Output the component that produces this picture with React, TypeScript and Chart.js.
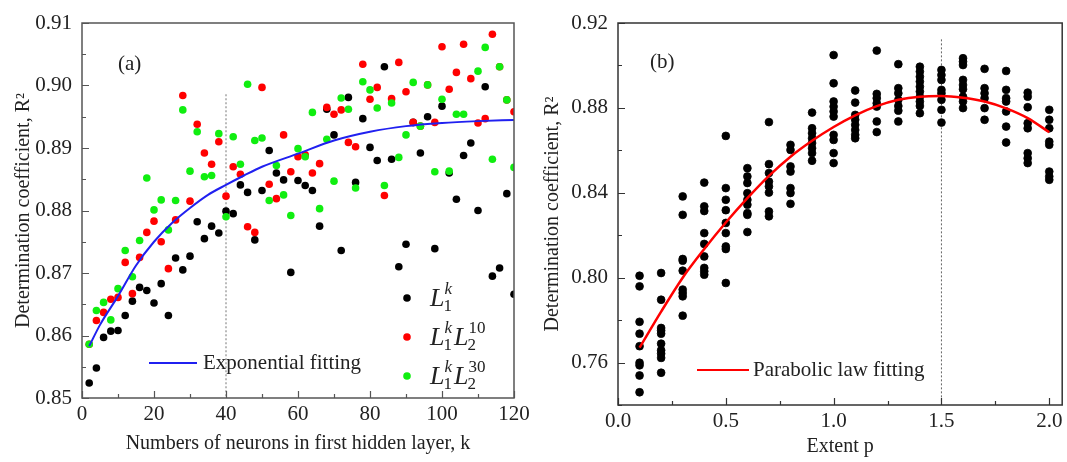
import React, { useEffect, useRef } from "react";
import { Chart, registerables } from "chart.js";

Chart.register(...registerables);

const SERIF = "'Liberation Serif', 'Times New Roman', Times, serif";
const TEXT = "#222222";

// ---------------- Panel (a) data ----------------
const NEURONS_K = [
  2, 4, 6, 8, 10, 12, 14, 16, 18, 20, 22, 24, 26, 28, 30, 32, 34, 36, 38, 40,
  42, 44, 46, 48, 50, 52, 54, 56, 58, 60, 62, 64, 66, 68, 70, 72, 74, 76, 78, 80,
  82, 84, 86, 88, 90, 92, 94, 96, 98, 100, 102, 104, 106, 108, 110, 112, 114, 116, 118, 120,
];
const R2_L1 = [
  0.8524, 0.8548, 0.8597, 0.8607, 0.8608, 0.8632, 0.8655, 0.8677, 0.8672, 0.8652,
  0.8683, 0.8632, 0.8724, 0.8705, 0.8727, 0.8782, 0.8755, 0.8775, 0.8764, 0.8799,
  0.8795, 0.8841, 0.8829, 0.8753, 0.8832, 0.8896, 0.8860, 0.8849, 0.8701, 0.8848,
  0.8840, 0.8832, 0.8775, 0.8962, 0.8921, 0.8736, 0.8981, 0.8845, 0.8947, 0.8901,
  0.8880, 0.9030, 0.8882, 0.8710, 0.8746, 0.8941, 0.8892, 0.8950, 0.8739, 0.8967,
  0.8860, 0.8818, 0.8888, 0.8908, 0.8800, 0.8998, 0.8695, 0.8708, 0.8827, 0.8666,
];
const R2_L1_L2_10 = [
  0.8586, 0.8624, 0.8637, 0.8658, 0.8661, 0.8717, 0.8667, 0.8725, 0.8765, 0.8783,
  0.8750, 0.8707, 0.8785, 0.8984, 0.8815, 0.8938, 0.8892, 0.8874, 0.8910, 0.8823,
  0.8870, 0.8858, 0.8774, 0.8765, 0.8997, 0.8842, 0.8819, 0.8921, 0.8862, 0.8886,
  0.8889, 0.8860, 0.8875, 0.8965, 0.8954, 0.8961, 0.8909, 0.8902, 0.9034, 0.8978,
  0.8997, 0.8824, 0.8979, 0.9037, 0.8990, 0.8941, 0.8935, 0.9001, 0.8941, 0.9062,
  0.8994, 0.9021, 0.9066, 0.9011, 0.8940, 0.8947, 0.9082, 0.9030, 0.8977, 0.8958,
];
const R2_L1_L2_30 = [
  0.8586, 0.8640, 0.8653, 0.8625, 0.8675, 0.8736, 0.8694, 0.8752, 0.8852, 0.8801,
  0.8817, 0.8769, 0.8816, 0.8961, 0.8863, 0.8926, 0.8854, 0.8856, 0.8923, 0.8790,
  0.8918, 0.8874, 0.9002, 0.8912, 0.8916, 0.8816, 0.8872, 0.8825, 0.8792, 0.8899,
  0.8886, 0.8957, 0.8803, 0.8914, 0.8847, 0.8980, 0.8962, 0.8836, 0.9006, 0.8993,
  0.8964, 0.8840, 0.8972, 0.8885, 0.8921, 0.9005, 0.8935, 0.9001, 0.8862, 0.8978,
  0.8863, 0.8954, 0.8954, null, 0.9023, 0.9061, 0.8882, 0.9030, 0.8977, 0.8869,
];
const EXP_FIT_K = [2, 5, 10, 15, 20, 25, 30, 35, 40, 45, 50, 60, 70, 80, 90, 100, 110, 120];
const EXP_FIT_R2 = [
  0.8583, 0.8617, 0.8663, 0.8712, 0.8750, 0.8780, 0.8804, 0.8825, 0.8841, 0.8856,
  0.8870, 0.8891, 0.8912, 0.8926, 0.8935, 0.8940, 0.8943, 0.8945,
];
const K_MARK = 40;
const K_MARK_RANGE = [0.8986, 0.85];
const A_X_MAJOR = [0, 20, 40, 60, 80, 100, 120];
const A_X_MINOR = [10, 30, 50, 70, 90, 110];
const A_Y_MAJOR = [0.85, 0.86, 0.87, 0.88, 0.89, 0.9, 0.91];
const A_Y_MINOR = [0.855, 0.865, 0.875, 0.885, 0.895, 0.905];

// ---------------- Panel (b) data ----------------
const EXTENT_P = [0.1, 0.2, 0.3, 0.4, 0.5, 0.6, 0.7, 0.8, 0.9, 1.0, 1.1, 1.2, 1.3, 1.4, 1.5, 1.6, 1.7, 1.8, 1.9, 2.0];
const R2_BY_P = [
  [0.8009, 0.7959, 0.7792, 0.7736, 0.7677, 0.7599, 0.7587, 0.7539, 0.746],
  [0.8022, 0.7896, 0.7763, 0.7751, 0.7736, 0.7689, 0.7658, 0.7642, 0.7622, 0.7552],
  [0.8383, 0.8296, 0.8088, 0.808, 0.8033, 0.7944, 0.7928, 0.7912, 0.7821],
  [0.8448, 0.8336, 0.8314, 0.821, 0.8159, 0.81, 0.8046, 0.803, 0.8014],
  [0.8668, 0.8422, 0.8367, 0.8318, 0.8258, 0.821, 0.8147, 0.8135, 0.7975],
  [0.8516, 0.8477, 0.8446, 0.8398, 0.8367, 0.8344, 0.8304, 0.8296, 0.8215],
  [0.8733, 0.8535, 0.8493, 0.8453, 0.843, 0.8401, 0.8312, 0.8289],
  [0.8626, 0.8602, 0.8524, 0.85, 0.8422, 0.8399, 0.8348],
  [0.8778, 0.8704, 0.8681, 0.8657, 0.8634, 0.861, 0.8587, 0.8551],
  [0.9049, 0.8916, 0.883, 0.8806, 0.8783, 0.8759, 0.8673, 0.8649, 0.8587, 0.854],
  [0.8882, 0.8825, 0.8767, 0.8744, 0.872, 0.8696, 0.8673, 0.8657],
  [0.907, 0.8866, 0.8846, 0.8822, 0.8806, 0.8736, 0.8686],
  [0.9006, 0.8893, 0.8869, 0.8838, 0.8809, 0.8787, 0.8736],
  [0.8994, 0.8971, 0.8947, 0.8924, 0.89, 0.8877, 0.8853, 0.883, 0.8809, 0.8775],
  [0.8979, 0.8955, 0.8932, 0.8885, 0.8869, 0.8838, 0.8791, 0.8731],
  [0.9034, 0.9018, 0.9002, 0.8932, 0.8908, 0.8888, 0.8853, 0.883, 0.8799],
  [0.8984, 0.8893, 0.8869, 0.8846, 0.8799, 0.8744],
  [0.8974, 0.8885, 0.8846, 0.883, 0.8783, 0.8712, 0.8637],
  [0.8872, 0.8853, 0.8803, 0.8728, 0.8704, 0.8587, 0.8563, 0.854],
  [0.8791, 0.8744, 0.8704, 0.8641, 0.8626, 0.85, 0.8477, 0.8461],
];
const PARA_FIT_P = [0.1, 0.2, 0.3, 0.4, 0.5, 0.6, 0.7, 0.8, 0.9, 1.0, 1.1, 1.2, 1.3, 1.4, 1.5, 1.6, 1.7, 1.8, 1.9, 2.0];
const PARA_FIT_R2 = [
  0.767, 0.784, 0.8, 0.8135, 0.826, 0.8375, 0.848, 0.857, 0.8645, 0.871,
  0.8765, 0.8808, 0.8838, 0.8853, 0.8856, 0.8848, 0.883, 0.8798, 0.8752, 0.8685,
];
const P_MARK = 1.5;
const P_MARK_RANGE = [0.9123, 0.74];
const B_X_MAJOR = [0, 0.5, 1.0, 1.5, 2.0];
const B_X_MINOR = [0.25, 0.75, 1.25, 1.75];
const B_Y_MAJOR = [0.76, 0.8, 0.84, 0.88, 0.92];
const B_Y_MINOR = [0.74, 0.78, 0.82, 0.86, 0.9];

// ---------------- helpers ----------------
const toPoints = (xs: number[], ys: (number | null)[]) =>
  xs.map((x, i) => ({ x, y: ys[i] })).filter((p) => p.y !== null);

type Term = { sup: string; sub: string; supItalic: boolean };
const LEG_L1: Term[] = [{ sup: "k", sub: "1", supItalic: true }];
const LEG_L1L2_10: Term[] = [
  { sup: "k", sub: "1", supItalic: true },
  { sup: "10", sub: "2", supItalic: false },
];
const LEG_L1L2_30: Term[] = [
  { sup: "k", sub: "1", supItalic: true },
  { sup: "30", sub: "2", supItalic: false },
];

function drawMath(ctx: CanvasRenderingContext2D, x: number, base: number, terms: Term[]) {
  let cx = x;
  ctx.textAlign = "left";
  ctx.textBaseline = "alphabetic";
  for (const t of terms) {
    ctx.font = `italic 26px ${SERIF}`;
    ctx.fillText("L", cx, base);
    cx += ctx.measureText("L").width - 1;
    ctx.font = `${t.supItalic ? "italic " : ""}17px ${SERIF}`;
    ctx.fillText(t.sup, cx + 1, base - 12);
    const w1 = ctx.measureText(t.sup).width + 1;
    ctx.font = `17px ${SERIF}`;
    ctx.fillText(t.sub, cx, base + 5);
    const w2 = ctx.measureText(t.sub).width;
    cx += Math.max(w1, w2) + 2;
  }
}

function makeFrameTicks(cfg: {
  color: string;
  width: number;
  xMajor: number[];
  xMinor: number[];
  yMajor: number[];
  yMinor: number[];
}) {
  return {
    id: "frameTicks",
    afterDraw(chart: any) {
      const { ctx, chartArea } = chart;
      const { left, right, top, bottom } = chartArea;
      const xs = chart.scales.x;
      const ys = chart.scales.y;
      ctx.save();
      ctx.strokeStyle = cfg.color;
      ctx.lineWidth = 1.2;
      ctx.beginPath();
      const tick = (vals: number[], len: number, horiz: boolean) => {
        vals.forEach((v) => {
          if (horiz) {
            const px = Math.round(xs.getPixelForValue(v)) + 0.5;
            ctx.moveTo(px, bottom);
            ctx.lineTo(px, bottom - len);
          } else {
            const py = Math.round(ys.getPixelForValue(v)) + 0.5;
            ctx.moveTo(left, py);
            ctx.lineTo(left + len, py);
          }
        });
      };
      tick(cfg.xMajor, 7, true);
      tick(cfg.xMinor, 4, true);
      tick(cfg.yMajor, 7, false);
      tick(cfg.yMinor, 4, false);
      ctx.stroke();
      ctx.lineWidth = cfg.width;
      ctx.strokeRect(left, top, right - left, bottom - top);
      ctx.restore();
    },
  };
}

type Marker = { color: string; x: number; y: number; tx: number; base: number; terms: Term[] };
function makeAnnot(cfg: {
  panel: { text: string; x: number; y: number };
  fit: { text: string; color: string; x0: number; x1: number; tx: number; y: number };
  markers: Marker[];
}) {
  return {
    id: "annot",
    afterDraw(chart: any) {
      const ctx: CanvasRenderingContext2D = chart.ctx;
      ctx.save();
      ctx.fillStyle = TEXT;
      ctx.font = `21px ${SERIF}`;
      ctx.textAlign = "left";
      ctx.textBaseline = "middle";
      ctx.fillText(cfg.panel.text, cfg.panel.x, cfg.panel.y);
      ctx.strokeStyle = cfg.fit.color;
      ctx.lineWidth = 2;
      ctx.beginPath();
      ctx.moveTo(cfg.fit.x0, cfg.fit.y);
      ctx.lineTo(cfg.fit.x1, cfg.fit.y);
      ctx.stroke();
      ctx.fillStyle = TEXT;
      ctx.font = `21px ${SERIF}`;
      ctx.textBaseline = "middle";
      ctx.fillText(cfg.fit.text, cfg.fit.tx, cfg.fit.y);
      cfg.markers.forEach((m) => {
        ctx.fillStyle = m.color;
        ctx.beginPath();
        ctx.arc(m.x, m.y, 3.8, 0, Math.PI * 2);
        ctx.fill();
        ctx.fillStyle = TEXT;
        drawMath(ctx, m.tx, m.base, m.terms);
      });
      ctx.restore();
    },
  };
}

function linearAxis(opts: {
  min: number;
  max: number;
  major: number[];
  fmt: (v: number) => string;
  title: string;
  size: number;
  horizontal: boolean;
  labelPad: number;
  titlePad: any;
}) {
  return {
    type: "linear",
    min: opts.min,
    max: opts.max,
    afterBuildTicks: (s: any) => {
      s.ticks = opts.major.map((v) => ({ value: v }));
    },
    afterFit: (s: any) => {
      if (opts.horizontal) s.height = opts.size;
      else s.width = opts.size;
      s.paddingLeft = 0;
      s.paddingRight = 0;
      s.paddingTop = 0;
      s.paddingBottom = 0;
    },
    ticks: {
      callback: (v: any) => opts.fmt(Number(v)),
      font: { family: SERIF, size: 21 },
      color: TEXT,
      padding: opts.labelPad,
      autoSkip: false,
      maxRotation: 0,
      minRotation: 0,
    },
    grid: { display: false, drawTicks: false },
    border: { display: false },
    title: {
      display: true,
      text: opts.title,
      font: { family: SERIF, size: 20 },
      color: TEXT,
      padding: opts.titlePad,
    },
  };
}

function configA(): any {
  return {
    type: "scatter",
    data: {
      datasets: [
        {
          type: "line",
          label: "Exponential fitting",
          data: toPoints(EXP_FIT_K, EXP_FIT_R2),
          borderColor: "#2020f0",
          borderWidth: 2,
          pointRadius: 0,
          cubicInterpolationMode: "monotone",
          fill: false,
        },
        {
          label: "L1kL2_30",
          data: toPoints(NEURONS_K, R2_L1_L2_30),
          backgroundColor: "#10ee10",
          borderWidth: 0,
          pointRadius: 3.8,
        },
        {
          label: "L1kL2_10",
          data: toPoints(NEURONS_K, R2_L1_L2_10),
          backgroundColor: "#ff0000",
          borderWidth: 0,
          pointRadius: 3.8,
        },
        {
          label: "L1k",
          data: toPoints(NEURONS_K, R2_L1),
          backgroundColor: "#000000",
          borderWidth: 0,
          pointRadius: 3.8,
        },
        {
          type: "line",
          label: "k = 40",
          data: K_MARK_RANGE.map((y) => ({ x: K_MARK, y })),
          borderColor: "#777777",
          borderWidth: 1,
          borderDash: [2, 2],
          pointRadius: 0,
          fill: false,
        },
      ],
    },
    options: {
      animation: false,
      responsive: false,
      devicePixelRatio: 1,
      layout: { padding: { left: 0, top: 23, right: 16, bottom: 0 } },
      plugins: { legend: { display: false }, tooltip: { enabled: false } },
      scales: {
        x: linearAxis({
          min: 0,
          max: 120,
          major: A_X_MAJOR,
          fmt: (v) => String(Math.round(v)),
          title: "Numbers of neurons in first hidden layer, k",
          size: 64,
          horizontal: true,
          labelPad: 4,
          titlePad: { top: 0, bottom: 6 },
        }),
        y: linearAxis({
          min: 0.85,
          max: 0.91,
          major: A_Y_MAJOR,
          fmt: (v) => v.toFixed(2),
          title: "Determination coefficient, R²",
          size: 82,
          horizontal: false,
          labelPad: 10,
          titlePad: { top: 12, bottom: 0 },
        }),
      },
    },
    plugins: [
      makeFrameTicks({ color: "#555555", width: 1.5, xMajor: A_X_MAJOR, xMinor: A_X_MINOR, yMajor: A_Y_MAJOR, yMinor: A_Y_MINOR }),
      makeAnnot({
        panel: { text: "(a)", x: 118, y: 64 },
        fit: { text: "Exponential fitting", color: "#2020f0", x0: 149, x1: 197, tx: 203, y: 363 },
        markers: [
          { color: "#000000", x: 407, y: 298, tx: 430, base: 306, terms: LEG_L1 },
          { color: "#ff0000", x: 407, y: 337, tx: 430, base: 345, terms: LEG_L1L2_10 },
          { color: "#10ee10", x: 407, y: 376, tx: 430, base: 384, terms: LEG_L1L2_30 },
        ],
      }),
    ],
  };
}

function configB(): any {
  const pts: { x: number; y: number }[] = [];
  EXTENT_P.forEach((p, i) => R2_BY_P[i].forEach((y) => pts.push({ x: p, y })));
  return {
    type: "scatter",
    data: {
      datasets: [
        {
          type: "line",
          label: "Parabolic law fitting",
          data: toPoints(PARA_FIT_P, PARA_FIT_R2),
          borderColor: "#ff0000",
          borderWidth: 2.5,
          pointRadius: 0,
          cubicInterpolationMode: "monotone",
          fill: false,
        },
        {
          label: "R2",
          data: pts,
          backgroundColor: "#000000",
          borderColor: "#000000",
          borderWidth: 0.8,
          pointRadius: 3.9,
        },
        {
          type: "line",
          label: "p = 1.5",
          data: P_MARK_RANGE.map((y) => ({ x: P_MARK, y })),
          borderColor: "#666666",
          borderWidth: 1,
          borderDash: [2, 2],
          pointRadius: 0,
          fill: false,
        },
      ],
    },
    options: {
      animation: false,
      responsive: false,
      devicePixelRatio: 1,
      layout: { padding: { left: 0, top: 23, right: 1, bottom: 0 } },
      plugins: { legend: { display: false }, tooltip: { enabled: false } },
      scales: {
        x: linearAxis({
          min: 0,
          max: 2.06,
          major: B_X_MAJOR,
          fmt: (v) => v.toFixed(1),
          title: "Extent p",
          size: 57,
          horizontal: true,
          labelPad: 4,
          titlePad: { top: 0, bottom: 3 },
        }),
        y: linearAxis({
          min: 0.74,
          max: 0.92,
          major: B_Y_MAJOR,
          fmt: (v) => v.toFixed(2),
          title: "Determination coefficient, R²",
          size: 88,
          horizontal: false,
          labelPad: 10,
          titlePad: { top: 11, bottom: 0 },
        }),
      },
    },
    plugins: [
      makeFrameTicks({ color: "#333333", width: 1.5, xMajor: B_X_MAJOR, xMinor: B_X_MINOR, yMajor: B_Y_MAJOR, yMinor: B_Y_MINOR }),
      makeAnnot({
        panel: { text: "(b)", x: 120, y: 62 },
        fit: { text: "Parabolic law fitting", color: "#ff0000", x0: 167, x1: 219, tx: 223, y: 370 },
        markers: [],
      }),
    ],
  };
}

function Panel(props: { make: () => any; left: number; width: number; height: number }) {
  const ref = useRef<HTMLCanvasElement>(null);
  useEffect(() => {
    const chart = new Chart(ref.current as HTMLCanvasElement, props.make());
    return () => chart.destroy();
  }, []);
  return (
    <canvas
      ref={ref}
      width={props.width}
      height={props.height}
      style={{ position: "absolute", left: props.left, top: 0, width: props.width, height: props.height }}
    />
  );
}

export default function App() {
  return (
    <div style={{ position: "absolute", left: 0, top: 0, width: 1067, height: 462, background: "#ffffff" }}>
      <Panel make={configA} left={0} width={530} height={462} />
      <Panel make={configB} left={530} width={537} height={462} />
    </div>
  );
}
